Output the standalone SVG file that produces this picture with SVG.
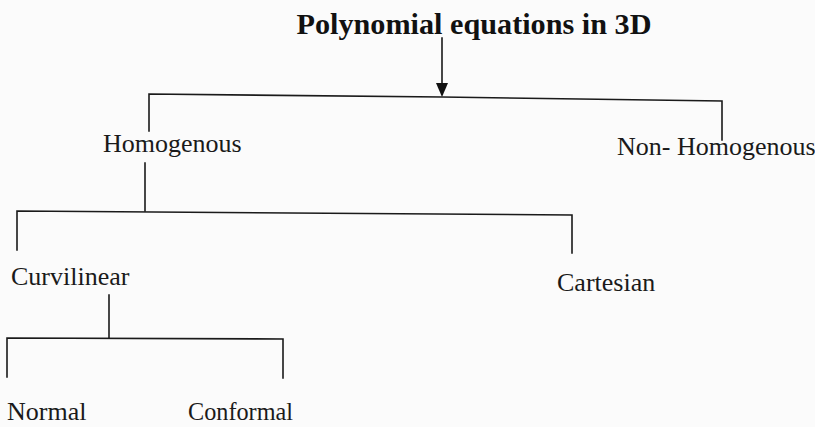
<svg xmlns="http://www.w3.org/2000/svg" width="815" height="427" viewBox="0 0 815 427">
  <defs>
    <style>
      .lbl { font-family: "Liberation Serif", "Times New Roman", serif; font-size: 26px; fill: #1a1a1a; }
      .title { font-family: "Liberation Serif", "Times New Roman", serif; font-size: 30px; font-weight: bold; fill: #111; }
      .ln { fill: none; stroke: #1a1a1a; stroke-width: 1.6; stroke-linecap: square; }
    </style>
    <marker id="arr" viewBox="0 0 10 10" refX="10" refY="5" markerWidth="10" markerHeight="10" markerUnits="userSpaceOnUse" orient="auto">
      <path d="M0,0 L10,5 L0,10 Z" fill="#111"/>
    </marker>
  </defs>
  <rect width="815" height="427" fill="#fbfbfb"/>

  <g id="connectors">
    <!-- root arrow -->
    <path class="ln" d="M442,38 L442,83"/>
    <path d="M436,83 L448,83 L442,97 Z" fill="#111"/>
    <!-- level 1 bar -->
    <path class="ln" d="M149,131 L149,94 L442,97 L722,101 L722,140"/>
    <!-- Homogenous down -->
    <path class="ln" d="M145,163 L145,211"/>
    <!-- level 2 bar -->
    <path class="ln" d="M17,250 L17,211 L572,215 L572,253"/>
    <!-- Curvilinear down -->
    <path class="ln" d="M109,295 L109,338"/>
    <!-- level 3 bar -->
    <path class="ln" d="M7,377 L7,338 L283,339 L283,378"/>
  </g>

  <g id="node-root">
    <text class="title" x="474" y="34" text-anchor="middle" textLength="355" lengthAdjust="spacingAndGlyphs">Polynomial equations in 3D</text>
  </g>
  <g id="node-homogenous">
    <text class="lbl" x="103" y="152">Homogenous</text>
  </g>
  <g id="node-nonhomogenous">
    <text class="lbl" x="617" y="155">Non- Homogenous</text>
  </g>
  <g id="node-curvilinear">
    <text class="lbl" x="11" y="285">Curvilinear</text>
  </g>
  <g id="node-cartesian">
    <text class="lbl" x="557" y="291">Cartesian</text>
  </g>
  <g id="node-normal">
    <text class="lbl" x="7" y="420">Normal</text>
  </g>
  <g id="node-conformal">
    <text class="lbl" x="188" y="420" textLength="105" lengthAdjust="spacingAndGlyphs">Conformal</text>
  </g>
</svg>
